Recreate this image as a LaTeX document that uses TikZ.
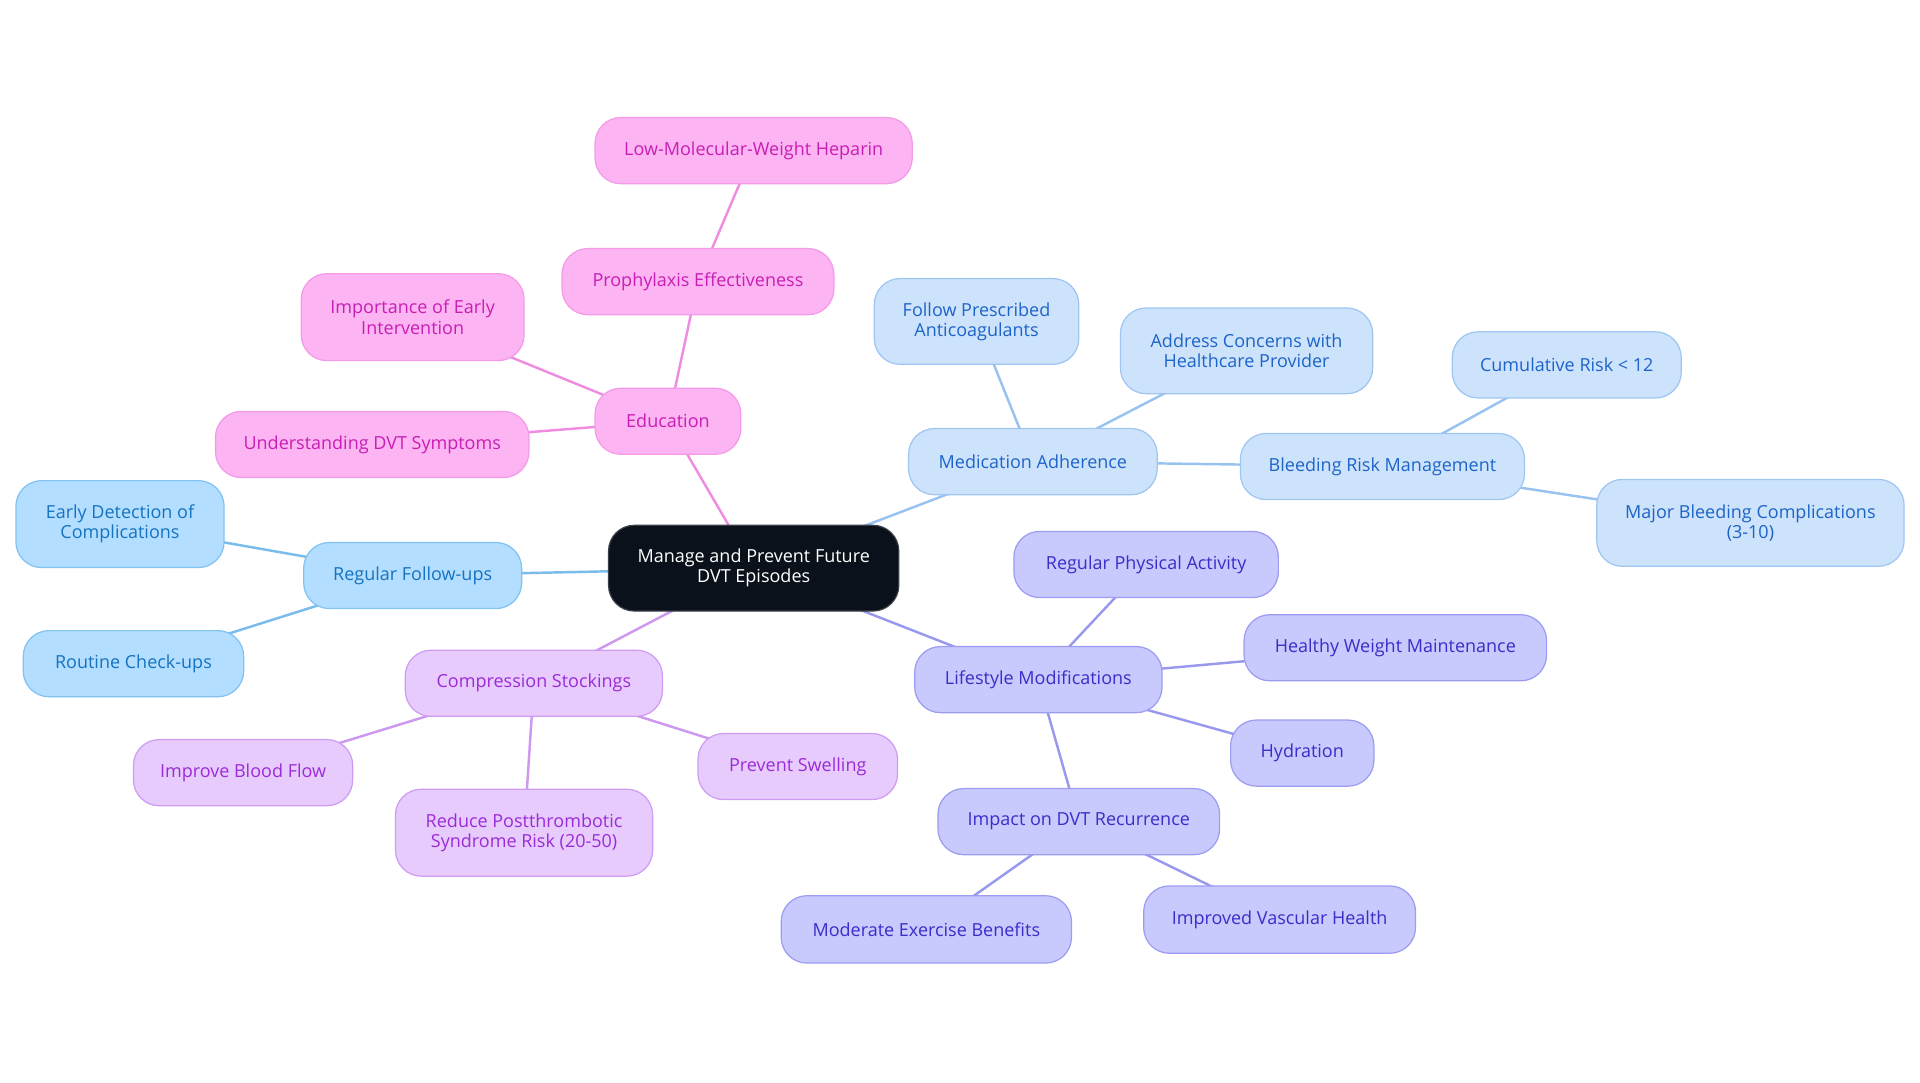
\documentclass[tikz,border=0pt]{standalone}
\usepackage{fontspec}
\setmainfont{Open Sans}
\usetikzlibrary{backgrounds}
\definecolor{pkfill}{HTML}{FCB4F2}\definecolor{pkdraw}{HTML}{F39BE8}\definecolor{pktext}{HTML}{C81EB4}\definecolor{pkedge}{HTML}{F08CE0}
\definecolor{mdfill}{HTML}{CDE3FB}\definecolor{mddraw}{HTML}{9FC5F2}\definecolor{mdtext}{HTML}{1E64C8}\definecolor{mdedge}{HTML}{98C3F0}
\definecolor{fufill}{HTML}{B4DEFF}\definecolor{fudraw}{HTML}{80C2F2}\definecolor{futext}{HTML}{1573C0}\definecolor{fuedge}{HTML}{7ABCEC}
\definecolor{cpfill}{HTML}{E8CBFD}\definecolor{cpdraw}{HTML}{CF9CF3}\definecolor{cptext}{HTML}{9B2BD8}\definecolor{cpedge}{HTML}{CD98EF}
\definecolor{lsfill}{HTML}{C8C9FC}\definecolor{lsdraw}{HTML}{9C9CF2}\definecolor{lstext}{HTML}{3B2DC8}\definecolor{lsedge}{HTML}{9898EE}
\definecolor{ctfill}{HTML}{0B111B}\definecolor{ctdraw}{HTML}{3A3F48}
\tikzset{
  box/.style={rectangle, rounded corners=21pt, line width=1pt, align=center, inner sep=0pt,
    font=\fontsize{14.7}{16.5}\selectfont},
  pk/.style={box, fill=pkfill, draw=pkdraw, text=pktext},
  md/.style={box, fill=mdfill, draw=mddraw, text=mdtext},
  fu/.style={box, fill=fufill, draw=fudraw, text=futext},
  cp/.style={box, fill=cpfill, draw=cpdraw, text=cptext},
  ls/.style={box, fill=lsfill, draw=lsdraw, text=lstext},
  ct/.style={box, fill=ctfill, draw=ctdraw, text=white},
  sz/.style 2 args={minimum width=#1pt, minimum height=#2pt},
  edge/.style={line width=2pt}
}
\begin{document}
\begin{tikzpicture}[x=1pt,y=-1pt]
\useasboundingbox (0,0) rectangle (1568,884.4);
% central
\node[ct, sz={237}{70}] (c) at (615.5,464) {Manage and Prevent Future\\DVT Episodes};
% education branch
\node[pk, sz={259}{54}] (lmwh) at (615.5,123) {Low-Molecular-Weight Heparin};
\node[pk, sz={222}{54}] (proph) at (570,230) {Prophylaxis Effectiveness};
\node[pk, sz={182}{71}] (imp) at (337,259) {Importance of Early\\Intervention};
\node[pk, sz={119}{54}] (edu) at (545.5,344) {Education};
\node[pk, sz={256}{54}] (und) at (304,363) {Understanding DVT Symptoms};
% medication branch
\node[md, sz={167}{70}] (fol) at (797.5,262.5) {Follow Prescribed\\Anticoagulants};
\node[md, sz={206}{70}] (adr) at (1018,286.5) {Address Concerns with\\Healthcare Provider};
\node[md, sz={187}{54}] (cum) at (1279.5,298) {Cumulative Risk < 12};
\node[md, sz={203}{54}] (med) at (843.5,377) {Medication Adherence};
\node[md, sz={232}{54}] (blr) at (1129,381) {Bleeding Risk Management};
\node[md, sz={251}{71}] (maj) at (1429.5,427) {Major Bleeding Complications\\(3-10)};
% follow-ups branch
\node[fu, sz={170}{71}] (edc) at (98,428) {Early Detection of\\Complications};
\node[fu, sz={178}{54}] (rfu) at (337,470) {Regular Follow-ups};
\node[fu, sz={180}{54}] (rcu) at (109,542) {Routine Check-ups};
% compression branch
\node[cp, sz={210}{54}] (cs) at (436,558) {Compression Stockings};
\node[cp, sz={179}{54}] (ibf) at (198.5,631) {Improve Blood Flow};
\node[cp, sz={163}{54}] (psw) at (651.5,626) {Prevent Swelling};
\node[cp, sz={210}{71}] (rps) at (428,680) {Reduce Postthrombotic\\Syndrome Risk (20-50)};
% lifestyle branch
\node[ls, sz={216}{54}] (rpa) at (936,461) {Regular Physical Activity};
\node[ls, sz={202}{54}] (lsm) at (848,555) {Lifestyle Modifications};
\node[ls, sz={247}{54}] (hwm) at (1139.5,529) {Healthy Weight Maintenance};
\node[ls, sz={117}{54}] (hyd) at (1063.5,615) {Hydration};
\node[ls, sz={230}{54}] (idr) at (881,671) {Impact on DVT Recurrence};
\node[ls, sz={237}{55}] (meb) at (756.5,759) {Moderate Exercise Benefits};
\node[ls, sz={222}{55}] (ivh) at (1045,751) {Improved Vascular Health};
% edges
\begin{scope}[on background layer]
\draw[edge, pkedge] (c.center) -- (edu.center);
\draw[edge, pkedge] (edu.center) -- (proph.center);
\draw[edge, pkedge] (proph.center) -- (lmwh.center);
\draw[edge, pkedge] (edu.center) -- (imp.center);
\draw[edge, pkedge] (edu.center) -- (und.center);
\draw[edge, mdedge] (c.center) -- (med.center);
\draw[edge, mdedge] (med.center) -- (fol.center);
\draw[edge, mdedge] (med.center) -- (adr.center);
\draw[edge, mdedge] (med.center) -- (blr.center);
\draw[edge, mdedge] (blr.center) -- (cum.center);
\draw[edge, mdedge] (blr.center) -- (maj.center);
\draw[edge, fuedge] (c.center) -- (rfu.center);
\draw[edge, fuedge] (rfu.center) -- (edc.center);
\draw[edge, fuedge] (rfu.center) -- (rcu.center);
\draw[edge, cpedge] (c.center) -- (cs.center);
\draw[edge, cpedge] (cs.center) -- (ibf.center);
\draw[edge, cpedge] (cs.center) -- (rps.center);
\draw[edge, cpedge] (cs.center) -- (psw.center);
\draw[edge, lsedge] (c.center) -- (lsm.center);
\draw[edge, lsedge] (lsm.center) -- (rpa.center);
\draw[edge, lsedge] (lsm.center) -- (hwm.center);
\draw[edge, lsedge] (lsm.center) -- (hyd.center);
\draw[edge, lsedge] (lsm.center) -- (idr.center);
\draw[edge, lsedge] (idr.center) -- (meb.center);
\draw[edge, lsedge] (idr.center) -- (ivh.center);
\end{scope}
\end{tikzpicture}
\end{document}
